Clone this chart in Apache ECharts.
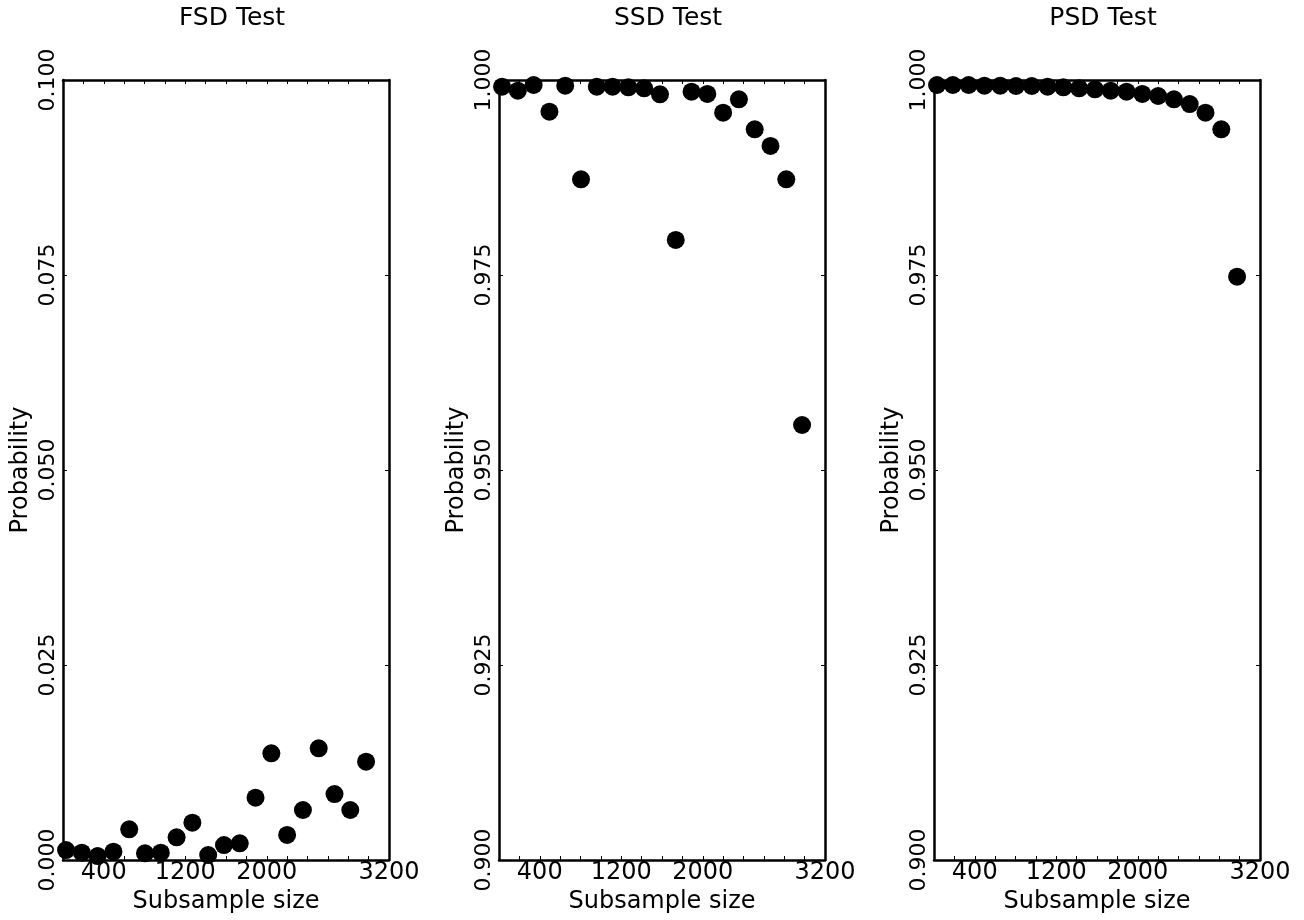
<!DOCTYPE html>
<html>
<head>
<meta charset="utf-8">
<script src="https://cdn.jsdelivr.net/npm/echarts@6/dist/echarts.min.js"></script>
<style>
html,body{margin:0;padding:0;background:#fff;}
#chart{width:1304px;height:920px;}
</style>
</head>
<body>
<div id="chart"></div>
<script>
// Subsample sizes (x)
const subsampleSizes = [30, 185, 340, 495, 650, 805, 960, 1115, 1270, 1425, 1580, 1735, 1890, 2045, 2200, 2355, 2510, 2665, 2820, 2975];
// Probabilities per test
const fsdProb = [0.00128, 0.00094, 0.00051, 0.00106, 0.00394, 0.00086, 0.00094, 0.00291, 0.00478, 0.00064,
                 0.00192, 0.00214, 0.00799, 0.01368, 0.00321, 0.00641, 0.01432, 0.00846, 0.00641, 0.01260];
const ssdProb = [0.99914, 0.99863, 0.99936, 0.99594, 0.99927, 0.98727, 0.99914, 0.99914, 0.99906, 0.99894,
                 0.99817, 0.97949, 0.99850, 0.99821, 0.99581, 0.99753, 0.99368, 0.99154, 0.98727, 0.95577];
const psdProb = [0.99936, 0.99936, 0.99936, 0.99927, 0.99927, 0.99923, 0.99923, 0.99914, 0.99906, 0.99894,
                 0.99881, 0.99863, 0.99850, 0.99821, 0.99795, 0.99753, 0.99692, 0.99581, 0.99368, 0.97478];
const panelTitles = ['FSD Test', 'SSD Test', 'PSD Test'];
const xTickLabels = [400, 1200, 2000, 3200];
const yRanges = [[0, 0.1], [0.9, 1.0], [0.9, 1.0]];
const xLabel = 'Subsample size';
const yLabel = 'Probability';

const FONT = 'DejaVu Sans';
const gridLefts = [63, 499, 934];
const gridW = 326, gridTop = 80, gridH = 780;
const seriesData = [fsdProb, ssdProb, psdProb];

const grids = [], xAxes = [], yAxes = [], series = [], graphics = [];
const lineStyle = {color: '#000', width: 2.5};
const tickStyle = {show: true, inside: true, length: 4, lineStyle: {color: '#000', width: 1}};

for (let i = 0; i < 3; i++) {
  grids.push({left: gridLefts[i], top: gridTop, width: gridW, height: gridH, containLabel: false});
  xAxes.push({
    gridIndex: i, type: 'value', position: 'bottom', min: 0, max: 3200, interval: 200,
    axisLine: {show: true, onZero: false, lineStyle: lineStyle},
    axisTick: tickStyle,
    splitLine: {show: false},
    axisLabel: {
      show: true, color: '#000', fontFamily: FONT, fontSize: 24, margin: 1,
      showMinLabel: true, showMaxLabel: true,
      formatter: v => xTickLabels.indexOf(Math.round(v)) >= 0 ? String(Math.round(v)) : ''
    },
    name: xLabel, nameLocation: 'middle', nameGap: 25,
    nameTextStyle: {color: '#000', fontFamily: FONT, fontSize: 24}
  });
  xAxes.push({
    gridIndex: i, type: 'value', position: 'top', min: 0, max: 3200, interval: 200,
    axisLine: {show: true, onZero: false, lineStyle: lineStyle},
    axisTick: tickStyle, splitLine: {show: false}, axisLabel: {show: false}
  });
  const [ymin, ymax] = yRanges[i];
  yAxes.push({
    gridIndex: i, type: 'value', position: 'left', min: ymin, max: ymax, interval: 0.025,
    axisLine: {show: true, onZero: false, lineStyle: lineStyle},
    axisTick: tickStyle, splitLine: {show: false},
    axisLabel: {
      show: true, rotate: 90, color: '#000', fontFamily: FONT, fontSize: 22, margin: 4,
      showMinLabel: true, showMaxLabel: true,
      formatter: v => Number(v).toFixed(3)
    },
    name: yLabel, nameLocation: 'middle', nameGap: 30,
    nameTextStyle: {color: '#000', fontFamily: FONT, fontSize: 24}
  });
  yAxes.push({
    gridIndex: i, type: 'value', position: 'right', min: ymin, max: ymax, interval: 0.025,
    axisLine: {show: true, onZero: false, lineStyle: lineStyle},
    axisTick: tickStyle, splitLine: {show: false}, axisLabel: {show: false}
  });
  series.push({
    type: 'scatter', xAxisIndex: 2 * i, yAxisIndex: 2 * i,
    symbol: 'circle', symbolSize: 18, clip: false,
    itemStyle: {color: '#000', opacity: 1},
    emphasis: {disabled: true},
    data: subsampleSizes.map((x, k) => [x, seriesData[i][k]]),
    z: 1
  });
  graphics.push({
    type: 'text', x: gridLefts[i] + gridW / 2 + 6, y: 18,
    style: {text: panelTitles[i], fill: '#000', font: '25px "' + FONT + '"', textAlign: 'center', textVerticalAlign: 'middle'}
  });
}

const chart = echarts.init(document.getElementById('chart'), null, {renderer: 'canvas'});
chart.setOption({
  backgroundColor: '#fff',
  animation: false,
  grid: grids, xAxis: xAxes, yAxis: yAxes, series: series,
  graphic: graphics
});
</script>
</body>
</html>
